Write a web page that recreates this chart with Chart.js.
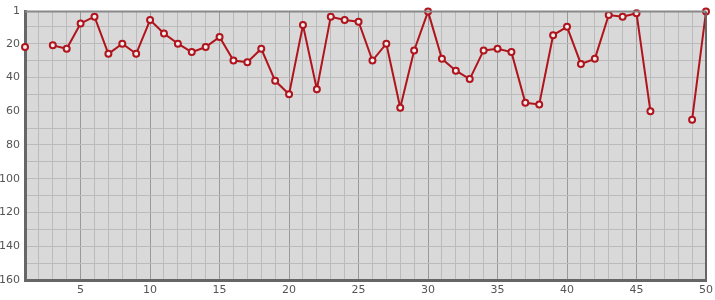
<!DOCTYPE html>
<html>
<head>
<meta charset="utf-8">
<script src="https://cdn.jsdelivr.net/npm/chart.js@4"></script>
<style>
  html, body { margin: 0; padding: 0; background: #fff; }
  #wrap { width: 715px; height: 300px; }
</style>
</head>
<body>
<div id="wrap"><canvas id="chartRanking"></canvas></div>
<script>
// position per day (null = no entry)
const days = [1,2,3,4,5,6,7,8,9,10,11,12,13,14,15,16,17,18,19,20,21,22,23,24,25,
              26,27,28,29,30,31,32,33,34,35,36,37,38,39,40,41,42,43,44,45,46,47,48,49,50];
const ranks = [22,null,21,23,8,4,26,20,26,6,14,20,25,22,16,30,31,23,42,50,9,47,4,6,7,
               30,20,58,24,1,29,36,41,24,23,25,55,56,15,10,32,29,3,4,2,60,null,null,65,1];
const xLabels = [5,10,15,20,25,30,35,40,45,50];
const yTicks = [1,10,20,30,40,50,60,70,80,90,100,110,120,130,140,150,160];
const yLabels = [1,20,40,60,80,100,120,140,160];

const plotBg = {
    id: 'plotBg',
    beforeDraw(chart) {
        const { ctx, chartArea: a } = chart;
        ctx.save();
        ctx.fillStyle = '#d9d9d9';
        ctx.fillRect(a.left, a.top, a.right - a.left, a.bottom - a.top);
        ctx.restore();
    },
    afterDatasetsDraw(chart) {
        const { ctx, chartArea: a } = chart;
        ctx.save();
        // top and right frame lines
        ctx.strokeStyle = '#888';
        ctx.lineWidth = 2;
        ctx.beginPath();
        ctx.moveTo(a.left, a.top);
        ctx.lineTo(a.right, a.top);
        ctx.stroke();
        ctx.strokeStyle = '#666';
        ctx.beginPath();
        ctx.moveTo(a.right, a.top);
        ctx.lineTo(a.right, a.bottom);
        ctx.stroke();
        // day labels under the x axis
        const xs = chart.scales.x;
        ctx.fillStyle = '#555';
        ctx.font = '11px "DejaVu Sans"';
        ctx.textAlign = 'center';
        ctx.textBaseline = 'middle';
        xLabels.forEach((v) => {
            ctx.fillText(String(v), xs.getPixelForValue(v), a.bottom + 10);
        });
        ctx.restore();
    }
};

const data = {
    datasets: [{
        data: days.map((d, i) => ({ x: d, y: ranks[i] })),
        borderColor: '#b0141c',
        borderWidth: 2,
        pointRadius: 3,
        pointBorderWidth: 2,
        pointBackgroundColor: '#eeeeee',
        pointBorderColor: '#b0141c',
        spanGaps: false,
        clip: false,
        tension: 0
    }]
};

const config = {
    type: 'line',
    data: data,
    plugins: [plotBg],
    options: {
        responsive: false,
        animation: false,
        layout: { padding: { top: 10, right: 9, left: 0, bottom: 0 } },
        plugins: { legend: { display: false }, tooltip: { enabled: false } },
        scales: {
            x: {
                type: 'linear',
                min: 1,
                max: 50,
                afterFit: (axis) => { axis.height = 20; },
                ticks: { stepSize: 1, autoSkip: false, display: false },
                grid: {
                    drawTicks: false,
                    color: (c) => (c.tick && Math.round(c.tick.value) % 5 === 0 ? '#999' : '#bbb')
                },
                border: { color: '#666', width: 3 }
            },
            y: {
                reverse: true,
                min: 1,
                max: 160,
                afterBuildTicks: (axis) => { axis.ticks = yTicks.map(v => ({ value: v })); },
                afterFit: (axis) => { axis.width = 25; },
                ticks: {
                    autoSkip: false,
                    padding: 5,
                    color: '#555',
                    font: { family: 'DejaVu Sans', size: 11 },
                    callback: (v) => (yLabels.includes(v) ? v : '')
                },
                grid: { drawTicks: false, color: '#bbb' },
                border: { color: '#666', width: 3 }
            }
        }
    }
};

const canvas = document.getElementById('chartRanking');
canvas.width = 715;
canvas.height = 300;
new Chart(canvas, config);
</script>
</body>
</html>
